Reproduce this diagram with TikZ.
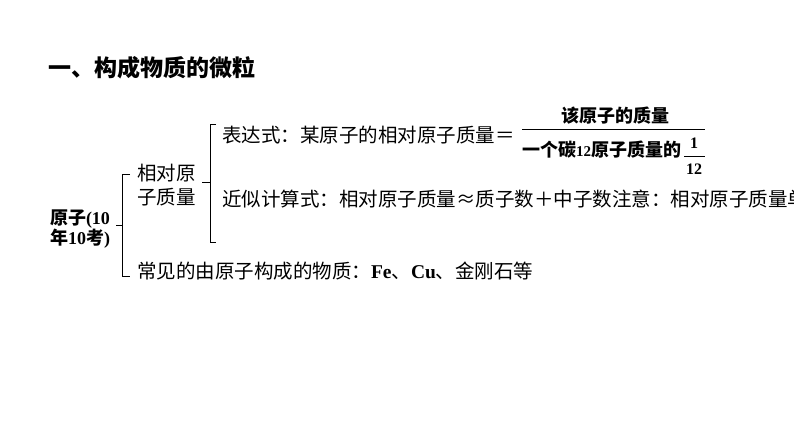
\documentclass[tikz,border=0pt]{standalone}
\usepackage{fontspec}
\setmainfont{Liberation Serif}
\newfontfamily\cjk{Noto Sans CJK SC}
\newcommand\lat[1]{{\rmfamily #1}}
\begin{document}
\begin{tikzpicture}[x=1pt,y=1pt,
  every node/.style={inner sep=0pt, outer sep=0pt},
  txt/.style={font=\cjk\fontsize{19.5}{23.5}\selectfont, anchor=west},
  boldtxt/.style={font=\cjk\bfseries\fontsize{18}{20}\selectfont},
  brk/.style={line width=1pt}]
\clip (0,0) rectangle (794,447);
\fill[white] (0,0) rectangle (794,447);
% title
\node[anchor=west, font=\cjk\bfseries\fontsize{23}{26}\selectfont] (title) at (48,379) {一、构成物质的微粒};
% atom
\node[boldtxt, align=center] (atom) at (80,218) {原子\lat{(10}\\年\lat{10}考\lat{)}};
% left bracket
\coordinate (lbt) at (130,272);
\coordinate (lbb) at (130,170);
\coordinate (lbm) at (122,221);
\draw[brk] (lbt) -- (122,272) -- (122,170) -- (lbb);
\draw[brk] (116,221) -- (lbm);
% relative atomic mass
\node[txt, align=left] (mass) at (137,262) {相对原\\子质量};
% upper bracket
\coordinate (ubt) at (216,322);
\coordinate (ubb) at (216,204);
\coordinate (ubm) at (210,264);
\draw[brk] (ubt) -- (210,322) -- (210,204) -- (ubb);
\draw[brk] (202,264) -- (ubm);
% expression
\node[txt] (expr) at (222,312) {表达式：某原子的相对原子质量＝};
\node[boldtxt] (num) at (615,331) {该原子的质量};
\draw[line width=1pt] (522,317) -- (705,317);
\node[anchor=west, font=\cjk\bfseries\fontsize{18}{20}\selectfont] (den) at (522,297) {一个碳\lat{\fontsize{15}{15}\selectfont 12}原子质量的};
\node[font=\rmfamily\bfseries\fontsize{16}{16}\selectfont] (one) at (694,304) {1};
\node[font=\rmfamily\bfseries\fontsize{16}{16}\selectfont] (twelve) at (694,278) {12};
\draw[line width=0.8pt] (684,291) -- (705,291);
% approximate
\node[txt] (approx) at (222,248) {近似计算式：相对原子质量≈质子数＋中子数注意：相对原子质量单};
% common substances
\node[txt] (common) at (137,176) {常见的由原子构成的物质：\lat{\bfseries Fe}、\lat{\bfseries Cu}、金刚石等};
\end{tikzpicture}
\end{document}
